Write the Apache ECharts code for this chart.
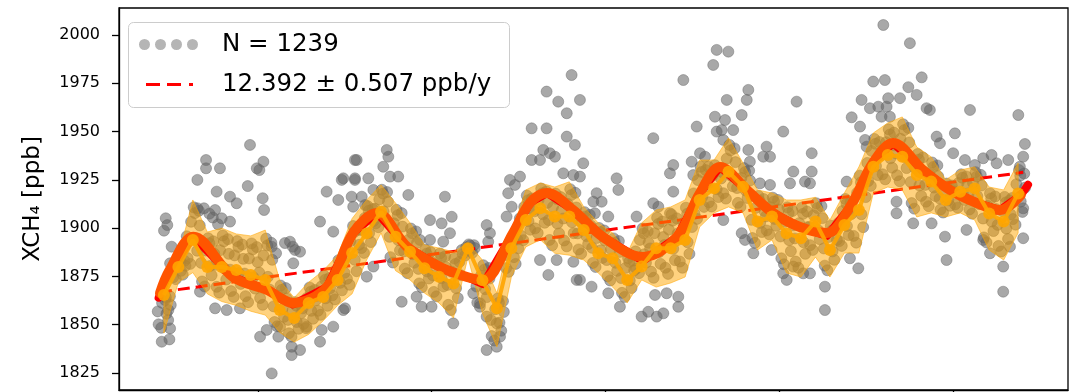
<!DOCTYPE html>
<html><head><meta charset="utf-8">
<script src="https://cdn.jsdelivr.net/npm/echarts@6/dist/echarts.min.js"></script>
<style>html,body{margin:0;padding:0;background:#fff}#c{width:1078px;height:392px}</style>
</head><body><div id="c"></div>
<script>
// ---------------- data ----------------
const scatterName = 'N = 1239';
const trendName = '12.392 \u00b1 0.507 ppb/y';
const yTickValues = [1825, 1850, 1875, 1900, 1925, 1950, 1975, 2000];
const xTickYears = [2019, 2020, 2021, 2022, 2023];

// monthly categories (Jun 2018 .. May 2023)
const monthLabels = [
 '2018-06','2018-07','2018-08','2018-09','2018-10','2018-11','2018-12',
 '2019-01','2019-02','2019-03','2019-04','2019-05','2019-06','2019-07','2019-08','2019-09','2019-10','2019-11','2019-12',
 '2020-01','2020-02','2020-03','2020-04','2020-05','2020-06','2020-07','2020-08','2020-09','2020-10','2020-11','2020-12',
 '2021-01','2021-02','2021-03','2021-04','2021-05','2021-06','2021-07','2021-08','2021-09','2021-10','2021-11','2021-12',
 '2022-01','2022-02','2022-03','2022-04','2022-05','2022-06','2022-07','2022-08','2022-09','2022-10','2022-11','2022-12',
 '2023-01','2023-02','2023-03','2023-04','2023-05'];

const monthlyMean = [1865.4,1879.9,1893.9,1879.9,1879.9,1878.3,1875.8,1873.2,1857.6,1853.5,1861.3,1864.4,1873.2,1887.1,
 1897.3,1908.5,1895.6,1887.8,1879.2,1874.9,1871.4,1889.6,1873.0,1858.5,1889.6,1904.2,1910.3,1906.0,1906.0,1899.1,
 1887.0,1884.4,1873.2,1880.1,1889.6,1889.6,1893.9,1914.6,1920.6,1929.2,1921.5,1903.4,1906.0,1897.3,1894.8,1903.4,
 1888.7,1901.6,1909.4,1931.8,1937.9,1937.0,1927.5,1924.1,1914.6,1918.9,1920.6,1907.6,1903.4,1918.0];

const bandUpper = [1868,1885,1914.6,1898,1900,1897,1896,1899,1873,1864,1872,1878,1886,1905,
 1914.6,1922.4,1913,1902.7,1891.3,1889.7,1887.7,1892.3,1883.5,1866.4,1897.5,1919.8,1923.4,1921.3,1924,1911,
 1902.7,1897.5,1887.1,1902.7,1909.4,1911,1914.6,1935.3,1935.3,1946.7,1933.7,1919.8,1918.2,1914.6,1914.6,1916,
 1904.2,1918.2,1931.7,1949.3,1954.5,1957.6,1942,1936.9,1925,1930.1,1931.7,1921.3,1919.8,1933.7];

const bandLower = [1845.7,1872,1877,1866,1862,1860,1857,1855,1846,1841,1845,1852,1860,1866,
 1883.5,1897.5,1878,1873.2,1866.4,1861.3,1853.5,1885,1856,1838.5,1874.7,1890.3,1894,1887,1886,1883.5,
 1876.8,1869.5,1861.3,1873.2,1869.5,1871.6,1874.7,1900.6,1907.9,1911,1907.9,1888.7,1893.9,1876.8,1874.7,1885,
 1874.7,1887.1,1887.1,1918.2,1921.3,1919.8,1905.8,1907.9,1905.8,1907.9,1904.2,1888.7,1883.5,1897.5];

// seasonal fit curve
const fitTimes = [2018.436,2018.490,2018.628,2018.856,2019.052,2019.201,2019.397,2019.547,2019.685,2019.858,2020.047,
 2020.203,2020.295,2020.468,2020.565,2020.663,2020.813,2020.986,2021.216,2021.411,2021.544,2021.659,2021.814,
 2021.964,2022.119,2022.275,2022.407,2022.540,2022.655,2022.827,2022.983,2023.138,2023.271,2023.390];
const fitValues = [1866.4,1878.0,1895.6,1874.7,1868.0,1861.3,1869.5,1897.5,1907.9,1890.3,1879.9,
 1874.7,1873.2,1897.5,1913.0,1918.2,1909.4,1895.4,1885.1,1895.4,1918.2,1931.7,1919.8,
 1907.9,1900.6,1897.5,1911.0,1933.8,1944.1,1930.1,1919.8,1913.0,1909.4,1917.0];
// red fit evaluated at the observation times (shows at the ends and at the dips)
const rawFitTimes = [2018.428,2018.490,2018.628,2018.856,2019.052,2019.201,2019.397,2019.547,2019.685,2019.858,2020.047,
 2020.203,2020.295,2020.468,2020.565,2020.663,2020.813,2020.986,2021.216,2021.411,2021.544,2021.659,2021.814,
 2021.964,2022.119,2022.275,2022.407,2022.540,2022.655,2022.827,2022.983,2023.138,2023.271,2023.390,2023.432];
const rawFitValues = [1864.0,1878.0,1895.6,1874.7,1868.0,1860.5,1869.5,1897.5,1907.9,1890.3,1879.9,
 1874.7,1871.0,1897.5,1913.0,1918.2,1909.4,1895.4,1883.0,1895.4,1918.2,1931.7,1919.8,
 1907.9,1900.6,1896.0,1911.0,1933.8,1944.1,1930.1,1919.8,1913.0,1909.4,1917.0,1922.5];

// linear trend
const trendTimes = [2018.436, 2023.404];
const trendValues = [1866.9, 1928.9];

// individual observations [decimal year, ppb] – points outside / around the band
const observations = [
 [2018.446,1841.2],[2018.490,1842.4],[2018.494,1848.1],[2018.469,1905.1],[2018.478,1901.6],[2018.459,1898.7],
 [2018.503,1890.4],[2018.494,1881.8],[2018.465,1862.8],[2018.484,1857.6],[2018.651,1925.0],[2018.701,1935.3],
 [2018.701,1931.0],[2018.781,1931.0],[2018.762,1918.9],[2018.839,1916.3],[2018.877,1912.9],[2018.954,1943.1],
 [2018.941,1921.8],[2019.031,1934.4],[2019.008,1930.1],[2019.027,1915.5],[2019.035,1909.4],[2018.651,1910.3],
 [2018.753,1909.4],[2018.791,1905.1],[2018.839,1903.4],[2019.079,1890.4],[2019.104,1887.0],[2019.184,1893.0],
 [2019.213,1888.7],[2019.203,1881.8],[2019.357,1903.4],[2019.395,1918.9],[2019.462,1914.6],[2019.482,1925.0],
 [2019.433,1898.2],[2019.558,1935.3],[2019.558,1925.0],[2019.079,1824.8],[2019.012,1843.8],[2019.050,1847.3],
 [2019.117,1843.8],[2019.194,1838.6],[2019.194,1834.3],[2019.242,1836.9],[2019.357,1841.2],[2019.433,1849.0],
 [2019.367,1847.3],[2018.666,1867.1],[2018.753,1858.5],[2018.820,1857.6],[2018.896,1858.5],[2019.501,1858.5],
 [2019.127,1849.0],[2019.280,1849.0],[2018.993,1931.0],[2018.689,1910.3],[2018.720,1907.5],[2018.740,1905.5],
 [2018.770,1902.0],[2019.155,1892.3],[2019.200,1890.4],[2019.242,1887.8],
 [2019.741,1940.5],[2019.750,1937.0],[2019.721,1931.8],[2019.760,1926.7],[2019.807,1926.7],[2019.568,1935.3],
 [2019.491,1925.8],[2019.558,1925.8],[2019.635,1925.8],[2019.539,1916.3],[2019.597,1916.3],[2019.548,1911.1],
 [2019.616,1912.0],[2019.664,1919.8],[2019.865,1917.2],[2020.076,1916.3],[2019.990,1904.2],[2020.057,1902.5],
 [2020.115,1905.9],[2019.932,1893.9],[2019.990,1893.9],[2020.066,1893.0],[2020.105,1897.4],[2019.827,1861.9],
 [2019.913,1864.5],[2019.942,1859.3],[2019.999,1859.3],[2020.124,1850.7],[2019.491,1857.6],[2019.626,1874.9],
 [2019.664,1880.1],[2020.316,1901.6],[2020.335,1897.4],[2020.325,1893.0],[2020.450,1925.0],[2020.479,1922.4],
 [2020.508,1926.7],[2020.440,1918.1],[2020.460,1911.1],[2020.431,1906.0],[2020.575,1951.7],[2020.661,1951.7],
 [2020.661,1970.7],[2020.728,1965.5],[2020.777,1959.5],[2020.805,1979.3],[2020.853,1966.4],[2020.642,1940.5],
 [2020.680,1938.8],[2020.709,1937.0],[2020.575,1935.3],[2020.623,1935.3],[2020.777,1947.4],[2020.824,1943.1],
 [2020.757,1928.4],[2020.815,1927.5],[2020.316,1836.9],[2020.374,1838.6],[2020.393,1843.8],[2020.239,1866.3],
 [2020.278,1861.1],[2020.316,1854.2],[2020.374,1850.7],[2020.623,1883.5],[2020.671,1875.8],[2020.719,1883.5],
 [2020.815,1882.6],[2020.834,1873.2],
 [2020.872,1933.6],[2020.853,1926.7],[2021.640,1992.3],[2021.707,1991.4],[2021.620,1984.5],[2021.448,1976.7],
 [2021.822,1971.6],[2021.813,1966.4],[2021.698,1966.4],[2021.784,1958.6],[2021.630,1957.7],[2021.688,1956.0],
 [2021.525,1952.6],[2021.735,1950.8],[2021.640,1950.0],[2021.275,1946.6],[2022.023,1950.0],[2022.100,1965.5],
 [2021.390,1932.7],[2021.371,1928.4],[2021.496,1934.4],[2021.544,1938.8],[2021.573,1937.0],[2021.505,1927.5],
 [2021.592,1931.8],[2021.669,1950.8],[2021.678,1945.7],[2021.927,1942.2],[2021.908,1937.0],[2021.947,1937.0],
 [2021.822,1940.5],[2021.831,1934.4],[2021.889,1923.2],[2021.947,1922.4],[2022.062,1923.2],[2022.081,1929.3],
 [2021.064,1925.8],[2021.074,1919.8],[2020.949,1918.1],[2020.930,1913.7],[2020.978,1913.7],[2020.939,1907.7],
 [2021.016,1906.0],[2021.179,1906.0],[2021.275,1912.9],[2021.304,1911.1],[2021.390,1918.9],[2021.371,1907.7],
 [2020.853,1873.2],[2020.920,1869.7],[2021.016,1866.3],[2021.083,1859.3],[2021.208,1854.2],[2021.246,1856.7],
 [2021.295,1854.2],[2021.333,1855.9],[2021.419,1859.3],[2021.419,1864.5],[2021.352,1866.3],[2021.285,1865.4],
 [2021.784,1897.4],[2021.803,1893.9],[2021.851,1887.0],[2021.956,1888.7],[2022.023,1876.6],[2022.043,1873.2],
 [2022.081,1880.1],[2021.678,1904.2],
 [2022.599,2005.2],[2022.752,1995.8],[2022.820,1978.1],[2022.541,1975.9],[2022.608,1976.7],[2022.743,1973.0],
 [2022.791,1969.0],[2022.848,1962.1],[2022.867,1961.2],[2022.695,1967.3],[2022.627,1967.3],[2022.474,1966.4],
 [2022.522,1962.1],[2022.570,1962.9],[2022.618,1962.9],[2022.589,1957.7],[2022.637,1957.7],[2022.417,1957.4],
 [2022.465,1952.6],[2022.187,1938.8],[2022.187,1929.3],[2022.148,1924.1],[2022.177,1923.2],[2023.098,1961.2],
 [2023.376,1958.6],[2023.011,1949.1],[2023.414,1943.6],[2023.404,1937.0],[2023.385,1931.8],[2023.318,1935.3],
 [2023.222,1937.9],[2023.174,1936.2],[2023.069,1935.3],[2022.906,1947.4],[2022.925,1944.0],[2023.001,1938.8],
 [2022.494,1945.7],[2022.503,1942.2],[2022.388,1924.1],[2022.138,1876.6],[2022.177,1876.6],[2022.263,1869.7],
 [2022.263,1857.6],[2022.455,1879.2],[2022.407,1884.4],[2022.675,1913.7],[2022.675,1907.7],[2022.771,1902.5],
 [2022.877,1902.5],[2022.954,1895.6],[2022.963,1883.5],[2023.078,1899.1],[2023.174,1893.9],[2023.213,1887.0],
 [2023.289,1880.1],[2023.289,1867.1],[2023.404,1894.8],[2023.404,1910.3],[2023.328,1890.4],[2023.126,1932.7],
 [2023.251,1933.6]
];

// observations seen through the orange band (olive circles), per month – first set
const bandObservations = [
 [2018.428,1850.2],[2018.448,1861.3],[2018.473,1855.7],[2018.493,1864.7],
 [2018.512,1874.6],[2018.532,1881.1],[2018.557,1877.9],[2018.577,1883.1],
 [2018.595,1884.5],[2018.615,1903.3],[2018.640,1893.9],[2018.660,1909.0],
 [2018.678,1872.4],[2018.698,1888.4],[2018.723,1880.4],[2018.743,1893.2],
 [2018.762,1869.6],[2018.782,1888.6],[2018.807,1879.1],[2018.827,1894.3],
 [2018.845,1867.4],[2018.865,1885.9],[2018.890,1876.7],[2018.910,1891.5],
 [2018.928,1864.8],[2018.948,1884.3],[2018.973,1874.6],[2018.993,1890.2],
 [2019.012,1863.8],[2019.032,1885.8],[2019.057,1874.8],[2019.077,1892.4],
 [2019.095,1851.4],[2019.115,1864.9],[2019.140,1858.2],[2019.160,1869.0],
 [2019.178,1845.6],[2019.198,1857.1],[2019.223,1851.4],[2019.243,1860.6],
 [2019.262,1850.4],[2019.282,1863.9],[2019.307,1857.2],[2019.327,1868.0],
 [2019.345,1857.2],[2019.365,1869.8],[2019.390,1863.7],[2019.410,1874.1],
 [2019.428,1865.2],[2019.448,1878.2],[2019.473,1871.7],[2019.493,1882.1],
 [2019.512,1873.8],[2019.532,1893.3],[2019.557,1883.6],[2019.577,1899.2],
 [2019.595,1889.7],[2019.615,1905.3],[2019.640,1897.5],[2019.660,1909.9],
 [2019.678,1902.5],[2019.698,1914.9],[2019.723,1908.7],[2019.743,1918.7],
 [2019.762,1885.0],[2019.782,1902.5],[2019.807,1893.8],[2019.827,1907.8],
 [2019.845,1879.1],[2019.865,1893.9],[2019.890,1886.5],[2019.910,1898.3],
 [2019.928,1871.4],[2019.948,1883.8],[2019.973,1877.6],[2019.993,1887.6],
 [2020.012,1867.0],[2020.032,1881.2],[2020.057,1874.1],[2020.077,1885.4],
 [2020.095,1860.3],[2020.115,1877.4],[2020.140,1868.9],[2020.160,1882.6],
 [2020.178,1886.5],[2020.198,1890.1],[2020.223,1888.3],[2020.243,1891.2],
 [2020.262,1861.5],[2020.282,1875.3],[2020.307,1868.4],[2020.327,1879.4],
 [2020.345,1844.1],[2020.365,1858.0],[2020.390,1851.1],[2020.410,1862.2],
 [2020.428,1879.3],[2020.448,1890.7],[2020.473,1885.0],[2020.493,1894.1],
 [2020.512,1896.2],[2020.532,1911.0],[2020.557,1903.6],[2020.577,1915.4],
 [2020.595,1899.9],[2020.615,1914.6],[2020.640,1907.2],[2020.660,1919.0],
 [2020.678,1893.9],[2020.698,1911.0],[2020.723,1902.4],[2020.743,1916.1],
 [2020.762,1893.6],[2020.782,1912.6],[2020.807,1903.1],[2020.827,1918.3],
 [2020.845,1889.0],[2020.865,1902.8],[2020.890,1895.9],[2020.910,1906.9],
 [2020.928,1882.0],[2020.948,1894.9],[2020.973,1888.5],[2020.993,1898.8],
 [2021.012,1875.1],[2021.032,1889.1],[2021.057,1882.1],[2021.077,1893.3],
 [2021.095,1866.5],[2021.115,1879.4],[2021.140,1872.9],[2021.160,1883.2],
 [2021.178,1879.1],[2021.198,1893.9],[2021.223,1886.5],[2021.243,1898.3],
 [2021.262,1877.5],[2021.282,1897.4],[2021.307,1887.5],[2021.327,1903.4],
 [2021.345,1879.5],[2021.365,1899.2],[2021.390,1889.3],[2021.410,1905.1],
 [2021.428,1882.7],[2021.448,1902.6],[2021.473,1892.7],[2021.493,1908.6],
 [2021.512,1907.5],[2021.532,1924.9],[2021.557,1916.2],[2021.577,1930.1],
 [2021.595,1913.4],[2021.615,1927.1],[2021.640,1920.2],[2021.660,1931.2],
 [2021.678,1918.1],[2021.698,1936.0],[2021.723,1927.1],[2021.743,1941.3],
 [2021.762,1913.1],[2021.782,1926.0],[2021.807,1919.5],[2021.827,1929.8],
 [2021.845,1894.9],[2021.865,1910.5],[2021.890,1902.7],[2021.910,1915.1],
 [2021.928,1898.8],[2021.948,1910.9],[2021.973,1904.8],[2021.993,1914.6],
 [2022.012,1884.4],[2022.032,1903.3],[2022.057,1893.8],[2022.077,1908.9],
 [2022.095,1882.7],[2022.115,1902.6],[2022.140,1892.7],[2022.160,1908.6],
 [2022.178,1891.2],[2022.198,1906.7],[2022.223,1899.0],[2022.243,1911.4],
 [2022.262,1880.6],[2022.282,1895.4],[2022.307,1888.0],[2022.327,1899.8],
 [2022.345,1893.3],[2022.365,1908.9],[2022.390,1901.1],[2022.410,1913.5],
 [2022.428,1896.0],[2022.448,1918.3],[2022.473,1907.2],[2022.493,1925.0],
 [2022.512,1924.4],[2022.532,1940.0],[2022.557,1932.2],[2022.577,1944.6],
 [2022.595,1927.9],[2022.615,1944.5],[2022.640,1936.2],[2022.660,1949.5],
 [2022.678,1927.4],[2022.698,1946.3],[2022.723,1936.8],[2022.743,1951.9],
 [2022.762,1913.0],[2022.782,1931.1],[2022.807,1922.1],[2022.827,1936.6],
 [2022.845,1913.7],[2022.865,1928.2],[2022.890,1921.0],[2022.910,1932.5],
 [2022.928,1909.6],[2022.948,1919.2],[2022.973,1914.4],[2022.993,1922.1],
 [2023.012,1912.3],[2023.032,1923.4],[2023.057,1917.9],[2023.077,1926.8],
 [2023.095,1909.7],[2023.115,1923.5],[2023.140,1916.6],[2023.160,1927.6],
 [2023.178,1895.2],[2023.198,1911.5],[2023.223,1903.4],[2023.243,1916.4],
 [2023.262,1890.8],[2023.282,1908.9],[2023.307,1899.8],[2023.327,1914.4],
 [2023.345,1904.7],[2023.365,1922.8],[2023.390,1913.8],[2023.410,1928.3]
];

// observations seen through the orange band – second set
const bandObservations2 = [
 [2018.423,1856.9],[2018.443,1848.4],[2018.463,1865.8],[2018.470,1864.0],[2018.483,1852.4],[2018.498,1860.2],
 [2018.507,1878.5],[2018.527,1873.6],[2018.547,1883.7],[2018.554,1882.7],[2018.567,1875.9],[2018.582,1880.5],
 [2018.590,1895.8],[2018.610,1881.5],[2018.630,1910.8],[2018.637,1907.8],[2018.650,1888.3],[2018.665,1901.4],
 [2018.673,1882.0],[2018.693,1869.8],[2018.713,1894.8],[2018.720,1892.2],[2018.733,1875.6],[2018.748,1886.8],
 [2018.757,1881.0],[2018.777,1866.6],[2018.797,1896.2],[2018.804,1893.2],[2018.817,1873.4],[2018.832,1886.7],
 [2018.840,1878.5],[2018.860,1864.4],[2018.880,1893.3],[2018.887,1890.3],[2018.900,1871.1],[2018.915,1884.1],
 [2018.923,1876.5],[2018.943,1861.7],[2018.963,1892.1],[2018.970,1889.0],[2018.983,1868.7],[2018.998,1882.4],
 [2019.007,1877.0],[2019.027,1860.3],[2019.047,1894.6],[2019.054,1891.1],[2019.067,1868.2],[2019.082,1883.6],
 [2019.090,1859.5],[2019.110,1849.2],[2019.130,1870.3],[2019.137,1868.1],[2019.150,1854.1],[2019.165,1863.6],
 [2019.173,1852.5],[2019.193,1843.8],[2019.213,1861.7],[2019.220,1859.9],[2019.233,1847.9],[2019.248,1856.0],
 [2019.257,1858.5],[2019.277,1848.2],[2019.297,1869.3],[2019.304,1867.1],[2019.317,1853.1],[2019.332,1862.6],
 [2019.340,1865.0],[2019.360,1855.1],[2019.380,1875.4],[2019.387,1873.3],[2019.400,1859.8],[2019.415,1868.9],
 [2019.423,1873.0],[2019.443,1863.1],[2019.463,1883.4],[2019.470,1881.3],[2019.483,1867.8],[2019.498,1876.9],
 [2019.507,1885.5],[2019.527,1870.7],[2019.547,1901.1],[2019.554,1898.0],[2019.567,1877.7],[2019.582,1891.4],
 [2019.590,1899.1],[2019.610,1887.2],[2019.630,1911.5],[2019.637,1909.0],[2019.650,1892.8],[2019.665,1903.7],
 [2019.673,1910.0],[2019.693,1900.5],[2019.713,1919.9],[2019.720,1917.9],[2019.733,1905.0],[2019.748,1913.7],
 [2019.757,1895.5],[2019.777,1882.2],[2019.797,1909.5],[2019.804,1906.7],[2019.817,1888.5],[2019.832,1900.8],
 [2019.840,1888.0],[2019.860,1876.7],[2019.880,1899.8],[2019.887,1897.4],[2019.900,1882.1],[2019.915,1892.4],
 [2019.923,1878.9],[2019.943,1869.4],[2019.963,1888.8],[2019.970,1886.8],[2019.983,1873.9],[2019.998,1882.6],
 [2020.007,1875.5],[2020.027,1864.7],[2020.047,1886.9],[2020.054,1884.6],[2020.067,1869.8],[2020.082,1879.8],
 [2020.090,1870.6],[2020.110,1857.6],[2020.130,1884.3],[2020.137,1881.5],[2020.150,1863.8],[2020.165,1875.7],
 [2020.173,1888.7],[2020.193,1885.9],[2020.213,1891.6],[2020.220,1891.0],[2020.233,1887.2],[2020.248,1889.7],
 [2020.257,1869.8],[2020.277,1859.3],[2020.297,1880.8],[2020.304,1878.6],[2020.317,1864.3],[2020.332,1873.9],
 [2020.340,1852.5],[2020.360,1841.8],[2020.380,1863.6],[2020.387,1861.4],[2020.400,1846.9],[2020.415,1856.6],
 [2020.423,1886.1],[2020.443,1877.4],[2020.463,1895.2],[2020.470,1893.4],[2020.483,1881.5],[2020.498,1889.5],
 [2020.507,1905.1],[2020.527,1893.8],[2020.547,1916.9],[2020.554,1914.5],[2020.567,1899.2],[2020.582,1909.5],
 [2020.590,1908.7],[2020.610,1897.5],[2020.630,1920.5],[2020.637,1918.1],[2020.650,1902.8],[2020.665,1913.1],
 [2020.673,1904.2],[2020.693,1891.1],[2020.713,1917.9],[2020.720,1915.1],[2020.733,1897.3],[2020.748,1909.3],
 [2020.757,1905.0],[2020.777,1890.6],[2020.797,1920.2],[2020.804,1917.2],[2020.817,1897.4],[2020.832,1910.7],
 [2020.840,1897.3],[2020.860,1886.8],[2020.880,1908.3],[2020.887,1906.1],[2020.900,1891.8],[2020.915,1901.4],
 [2020.923,1889.8],[2020.943,1879.9],[2020.963,1900.1],[2020.970,1898.0],[2020.983,1884.6],[2020.998,1893.6],
 [2021.007,1883.5],[2021.027,1872.9],[2021.047,1894.7],[2021.054,1892.5],[2021.067,1877.9],[2021.082,1887.7],
 [2021.090,1874.2],[2021.110,1864.4],[2021.130,1884.5],[2021.137,1882.5],[2021.150,1869.0],[2021.165,1878.1],
 [2021.173,1888.0],[2021.193,1876.7],[2021.213,1899.8],[2021.220,1897.4],[2021.233,1882.1],[2021.248,1892.4],
 [2021.257,1889.5],[2021.277,1874.3],[2021.297,1905.4],[2021.304,1902.2],[2021.317,1881.5],[2021.332,1895.4],
 [2021.340,1891.3],[2021.360,1876.3],[2021.380,1907.1],[2021.387,1903.9],[2021.400,1883.4],[2021.415,1897.2],
 [2021.423,1894.7],[2021.443,1879.5],[2021.463,1910.6],[2021.470,1907.4],[2021.483,1886.7],[2021.498,1900.6],
 [2021.507,1918.0],[2021.527,1904.8],[2021.547,1931.8],[2021.554,1929.1],[2021.567,1911.0],[2021.582,1923.2],
 [2021.590,1921.6],[2021.610,1911.2],[2021.630,1932.6],[2021.637,1930.4],[2021.650,1916.1],[2021.665,1925.7],
 [2021.673,1928.9],[2021.693,1915.3],[2021.713,1943.1],[2021.720,1940.3],[2021.733,1921.7],[2021.748,1934.2],
 [2021.757,1920.8],[2021.777,1911.0],[2021.797,1931.1],[2021.804,1929.1],[2021.817,1915.6],[2021.832,1924.7],
 [2021.840,1904.3],[2021.860,1892.4],[2021.880,1916.7],[2021.887,1914.2],[2021.900,1898.0],[2021.915,1908.9],
 [2021.923,1906.1],[2021.943,1896.8],[2021.963,1915.8],[2021.970,1913.8],[2021.983,1901.2],[2021.998,1909.7],
 [2022.007,1895.7],[2022.027,1881.3],[2022.047,1910.8],[2022.054,1907.8],[2022.067,1888.1],[2022.082,1901.4],
 [2022.090,1894.7],[2022.110,1879.5],[2022.130,1910.6],[2022.137,1907.4],[2022.150,1886.7],[2022.165,1900.6],
 [2022.173,1900.5],[2022.193,1888.7],[2022.213,1912.9],[2022.220,1910.4],[2022.233,1894.3],[2022.248,1905.2],
 [2022.257,1889.5],[2022.277,1878.2],[2022.297,1901.3],[2022.304,1898.9],[2022.317,1883.6],[2022.332,1893.9],
 [2022.340,1902.7],[2022.360,1890.8],[2022.380,1915.1],[2022.387,1912.6],[2022.400,1896.4],[2022.415,1907.3],
 [2022.423,1909.4],[2022.443,1892.5],[2022.463,1927.2],[2022.470,1923.7],[2022.483,1900.5],[2022.498,1916.1],
 [2022.507,1933.8],[2022.527,1921.9],[2022.547,1946.2],[2022.554,1943.7],[2022.567,1927.5],[2022.582,1938.4],
 [2022.590,1937.9],[2022.610,1925.3],[2022.630,1951.2],[2022.637,1948.5],[2022.650,1931.3],[2022.665,1942.9],
 [2022.673,1938.7],[2022.693,1924.3],[2022.713,1953.8],[2022.720,1950.8],[2022.733,1931.1],[2022.748,1944.4],
 [2022.757,1923.9],[2022.777,1910.1],[2022.797,1938.4],[2022.804,1935.5],[2022.817,1916.7],[2022.832,1929.3],
 [2022.840,1922.4],[2022.860,1911.4],[2022.880,1934.0],[2022.887,1931.7],[2022.900,1916.6],[2022.915,1926.8],
 [2022.923,1915.4],[2022.943,1908.1],[2022.963,1923.1],[2022.970,1921.5],[2022.983,1911.6],[2022.998,1918.3],
 [2023.007,1919.0],[2023.027,1910.6],[2023.047,1927.9],[2023.054,1926.1],[2023.067,1914.6],[2023.082,1922.3],
 [2023.090,1918.0],[2023.110,1907.5],[2023.130,1929.0],[2023.137,1926.8],[2023.150,1912.5],[2023.165,1922.1],
 [2023.173,1905.0],[2023.193,1892.6],[2023.213,1918.0],[2023.220,1915.4],[2023.233,1898.5],[2023.248,1909.9],
 [2023.257,1901.7],[2023.277,1887.9],[2023.297,1916.2],[2023.304,1913.3],[2023.317,1894.4],[2023.332,1907.1],
 [2023.340,1915.6],[2023.360,1901.8],[2023.380,1930.1],[2023.387,1927.2],[2023.400,1908.4],[2023.415,1921.0]
];

// ---------------- chart ----------------
function monthToYear(lbl) {
  const p = lbl.split('-');
  return Number(p[0]) + (Number(p[1]) - 0.5) / 12;
}
const monthTimes = monthLabels.map(monthToYear);
const zip = (a, b) => a.map((v, i) => [v, b[i]]);

const FONT = 'DejaVu Sans';
const circlesIcon = 'path://M0,5.5a5.5,5.5 0 1,0 11,0a5.5,5.5 0 1,0 -11,0Z' +
  'M16,5.5a5.5,5.5 0 1,0 11,0a5.5,5.5 0 1,0 -11,0Z' +
  'M32,5.5a5.5,5.5 0 1,0 11,0a5.5,5.5 0 1,0 -11,0Z' +
  'M48,5.5a5.5,5.5 0 1,0 11,0a5.5,5.5 0 1,0 -11,0Z';
const dashIcon = 'path://M0,0H14V3H0Z M21,0H35V3H21Z M43,0H47V3H43Z';

const chart = echarts.init(document.getElementById('c'), null, {renderer: 'canvas'});
const axisLineStyle = {color: '#000', width: 1.3};

chart.setOption({
  animation: false,
  textStyle: {fontFamily: FONT},
  grid: {left: 119, right: 10, top: 8, bottom: 2, show: true, borderColor: '#000', borderWidth: 1.3},
  xAxis: {
    type: 'value', min: 2018.2, max: 2023.662,
    axisLine: {show: true, onZero: false, lineStyle: axisLineStyle},
    axisTick: {show: true, customValues: xTickYears, length: 7, lineStyle: axisLineStyle},
    axisLabel: {show: false},
    splitLine: {show: false}
  },
  yAxis: {
    type: 'value', min: 1816.2, max: 2014.0,
    axisLine: {show: true, lineStyle: axisLineStyle},
    axisTick: {show: true, customValues: yTickValues, length: 7, lineStyle: axisLineStyle},
    axisLabel: {customValues: yTickValues, margin: 19, fontSize: 16, color: '#000', fontFamily: FONT,
      formatter: function (v) { return String(v); }},
    splitLine: {show: false},
    name: 'XCH\u2084 [ppb]', nameLocation: 'middle', nameGap: 74,
    nameTextStyle: {fontSize: 23, color: '#000', fontFamily: FONT}
  },
  legend: [
    {
      left: 139, top: 32, padding: 0, selectedMode: false, itemWidth: 59, itemHeight: 11,
      data: [{name: scatterName, icon: circlesIcon, itemStyle: {color: '#a3a3a3', borderWidth: 0}}],
      textStyle: {fontSize: 24.5, color: '#000', fontFamily: FONT, padding: [0, 0, 0, 19]},
      z: 12
    },
    {
      left: 146, top: 72, padding: 0, selectedMode: false, itemWidth: 47, itemHeight: 3,
      data: [{name: trendName, icon: dashIcon, itemStyle: {color: '#ff0000', borderWidth: 0}, lineStyle: {width: 0}}],
      textStyle: {fontSize: 24.5, color: '#000', fontFamily: FONT, padding: [0, 0, 0, 24]},
      z: 12
    }
  ],
  graphic: [{
    type: 'rect', z: 11, silent: true,
    shape: {x: 128.5, y: 22.5, width: 381, height: 85, r: 5},
    style: {fill: 'rgba(255,255,255,0.8)', stroke: '#cccccc', lineWidth: 1}
  }],
  series: [
    {
      name: scatterName, type: 'scatter', z: 1, silent: true,
      symbolSize: 11, data: observations.concat(bandObservations, bandObservations2),
      itemStyle: {color: 'rgba(100,100,100,0.7)', borderColor: 'rgba(100,100,100,0.55)', borderWidth: 1}
    },
    {
      name: trendName, type: 'line', z: 2, silent: true, showSymbol: false, symbol: 'none',
      data: zip(trendTimes, trendValues),
      lineStyle: {color: '#ff0000', width: 3, type: [12, 6]}
    },
    {
      name: 'band', type: 'custom', z: 3, silent: true,
      data: monthTimes.map((t, i) => [t, bandLower[i], bandUpper[i]]),
      encode: {x: 0, y: [1, 2]},
      renderItem: function (params, api) {
        if (params.dataIndex !== 0) return null;
        const pts = [];
        for (let i = 0; i < monthTimes.length; i++) pts.push(api.coord([monthTimes[i], bandUpper[i]]));
        for (let i = monthTimes.length - 1; i >= 0; i--) pts.push(api.coord([monthTimes[i], bandLower[i]]));
        return {
          type: 'polygon', shape: {points: pts},
          style: {fill: 'rgba(255,165,0,0.5)', stroke: 'rgba(255,165,0,0.55)', lineWidth: 1}
        };
      }
    },
    {
      name: 'fit raw', type: 'line', z: 4, silent: true, symbol: 'none',
      data: zip(rawFitTimes, rawFitValues),
      lineStyle: {color: '#ff0000', width: 8, cap: 'round', join: 'round'}
    },
    {
      name: 'fit', type: 'line', z: 5, silent: true, symbol: 'none', smooth: 0.35,
      data: zip(fitTimes, fitValues),
      lineStyle: {color: '#ff5500', width: 10, cap: 'round', join: 'round'}
    },
    {
      name: 'monthly', type: 'line', z: 6, silent: true, symbol: 'circle', symbolSize: 12, showSymbol: true,
      data: zip(monthTimes, monthlyMean),
      lineStyle: {color: '#ffa500', width: 4, opacity: 0.9},
      itemStyle: {color: '#ffa500', opacity: 0.9, borderWidth: 0}
    }
  ]
});
</script>
</body></html>
